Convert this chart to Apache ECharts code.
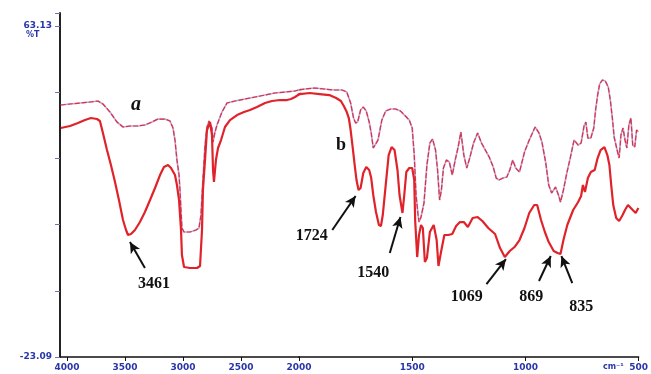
<!DOCTYPE html>
<html><head><meta charset="utf-8">
<script src="https://cdn.jsdelivr.net/npm/echarts@6/dist/echarts.min.js"></script>
<style>html,body{margin:0;padding:0;background:#fff}#c{width:651px;height:374px}</style>
</head><body><div id="c"></div>
<script>
// ---- data (wavenumber cm-1, %T) ----
const wnA = [4053,3974,3888,3802,3733,3690,3629,3569,3517,3457,3388,3328,3267,3216,3155,3112,3086,3069,3052,3034,3026,3017,3009,2991,2940,2888,2862,2845,2828,2810,2793,2776,2759,2750,2741,2733,2724,2707,2664,2621,2552,2466,2379,2293,2207,2121,2034,1974,1931,1888,1845,1810,1789,1772,1759,1750,1741,1728,1716,1703,1690,1681,1672,1664,1651,1634,1617,1595,1573,1552,1530,1513,1500,1491,1483,1474,1470,1461,1448,1435,1422,1410,1397,1388,1379,1371,1362,1349,1336,1323,1310,1297,1285,1272,1259,1246,1229,1211,1194,1177,1160,1142,1129,1117,1099,1082,1069,1056,1043,1026,1004,983,957,940,927,910,897,884,867,854,845,832,819,802,785,767,754,741,733,724,711,698,690,681,672,660,647,634,625,616,608,595,586,578,569,560,552,543,534,526,517,509,501];
const tA = [42.55,42.81,43.07,43.33,43.59,42.81,40.72,38.12,36.82,37.08,37.08,37.34,38.12,38.90,38.90,38.38,36.56,33.43,28.22,24.31,20.41,15.20,10.51,9.47,9.47,9.99,10.51,13.89,23.01,32.13,36.82,38.38,38.64,36.56,32.91,33.43,35.52,37.34,40.72,43.07,43.59,44.11,44.63,45.15,45.68,45.94,46.20,46.72,46.98,46.72,46.46,46.46,45.94,43.07,39.16,37.86,38.12,41.25,42.03,40.99,38.12,35.26,31.35,30.83,33.43,38.64,40.99,41.51,41.51,40.99,39.68,38.64,36.56,29.52,19.11,13.89,12.07,13.37,17.02,26.92,32.65,33.69,30.83,25.62,17.80,20.41,26.14,28.22,27.70,24.31,28.22,31.61,35.52,29.52,26.14,28.74,32.65,35.26,32.65,30.83,29.00,26.40,23.53,23.01,23.53,23.79,25.62,28.22,26.14,25.10,30.30,33.43,36.82,35.26,32.91,27.44,21.71,19.63,21.19,19.11,17.28,20.41,24.31,28.74,33.43,32.13,32.65,37.08,38.12,33.95,33.95,36.56,41.25,45.15,48.02,49.06,48.80,47.24,43.85,39.16,34.21,30.83,28.74,34.73,36.56,33.43,31.35,37.34,39.16,32.13,31.61,36.04,35.52];
const wnB = [4053,3974,3905,3845,3793,3741,3716,3690,3655,3621,3586,3552,3517,3491,3474,3448,3414,3371,3328,3284,3241,3198,3164,3129,3103,3069,3052,3034,3017,3009,2991,2940,2879,2853,2836,2828,2810,2793,2767,2750,2741,2733,2716,2698,2672,2638,2595,2534,2474,2422,2362,2293,2233,2164,2103,2069,2034,1996,1953,1909,1866,1836,1815,1802,1789,1780,1772,1763,1754,1746,1737,1728,1716,1703,1690,1681,1672,1660,1647,1638,1630,1617,1604,1591,1578,1565,1556,1543,1535,1526,1513,1500,1491,1487,1478,1470,1461,1453,1444,1435,1422,1405,1392,1384,1371,1358,1341,1323,1306,1289,1272,1254,1233,1211,1190,1164,1134,1112,1091,1069,1048,1026,1004,983,961,948,931,914,897,875,858,845,832,815,789,767,754,746,737,724,711,694,681,668,651,638,629,621,612,599,586,573,560,547,539,526,513,501];
const tB = [36.56,37.08,37.86,38.64,39.16,38.90,38.38,35.26,30.83,26.92,22.49,17.80,12.59,9.99,8.69,8.95,9.99,12.07,14.68,17.80,20.93,24.31,26.40,26.92,26.14,24.31,21.71,17.80,9.99,3.47,0.35,0.09,0.09,0.61,9.99,20.41,28.22,36.04,38.12,34.73,25.62,22.49,28.22,31.35,33.43,36.82,38.64,39.94,40.72,41.25,42.03,43.07,43.59,43.85,43.85,44.11,44.63,45.41,45.68,45.41,45.15,44.37,43.59,42.29,40.72,39.16,36.04,31.61,26.92,23.01,20.41,20.93,24.84,26.40,25.62,23.53,19.11,14.68,11.29,11.03,13.89,21.71,29.52,31.61,30.83,25.62,19.11,14.42,19.11,25.10,26.14,26.14,23.01,12.59,2.95,8.69,11.29,10.51,1.65,2.69,9.47,11.29,7.38,0.61,4.78,8.69,8.69,8.95,11.03,12.07,12.07,10.77,13.11,13.37,12.33,10.51,8.95,5.30,2.95,4.52,5.56,7.38,10.51,14.42,16.50,16.50,12.59,9.47,6.86,4.52,4.00,3.74,7.38,11.29,15.20,17.28,18.85,21.71,19.89,23.53,25.10,25.62,28.74,30.83,31.61,29.52,26.92,21.71,16.50,13.11,12.33,13.63,15.20,16.50,17.02,15.20,14.42,15.72];

const yRange = [-23.09, 63.13];          // labelled ends of the %T axis
const peakLabels = ['3461','1724','1540','1069','869','835'];
const arrowFromWn = [3328,1853,1599,1172,940,793];
const arrowFromT  = [0.09,9.99,3.98,-4.08,-3.30,-3.82];
const arrowToWn   = [3457,1750,1552,1086,888,841];
const arrowToT    = [6.86,18.85,13.37,2.43,3.21,3.21];
const peakLabelWn = [3250,1944,1672,1259,974,753];
const peakLabelT  = [-4.08,8.42,-1.21,-7.45,-7.45,-10.07];
const curveNames  = ['a','b'];
const curveNameWn = [3405,1815];
const curveNameT  = [42.55,32.13];

// ---- build ----
const SPLIT = 2000;
const ptsA = wnA.map((w,i)=>[w,tA[i]]);
const ptsB = wnB.map((w,i)=>[w,tB[i]]);
const yTop = yRange[1] + 3.39;   // axis line runs a little above the top label
const span = yRange[1] - yRange[0];
const blue = '#2a36a8';
const lblFont = {color: blue, fontWeight:'bold', fontSize:9, fontFamily:'DejaVu Sans'};

function marks(inLeft){
  const sel = w => inLeft ? w > SPLIT : w < SPLIT;
  const ml = [], mp = [];
  peakLabels.forEach((l,i)=>{
    if(!sel(arrowToWn[i])) return;
    ml.push([
      {coord:[arrowFromWn[i],arrowFromT[i]], symbol:'none', symbolSize:0},
      {coord:[arrowToWn[i],arrowToT[i]], symbol:'arrow', symbolSize:[8,11]}
    ]);
    mp.push({name:l, coord:[peakLabelWn[i],peakLabelT[i]],
      label:{fontFamily:'Liberation Serif', fontWeight:'bold', fontSize:16}});
  });
  curveNames.forEach((n,i)=>{
    if(!sel(curveNameWn[i])) return;
    mp.push({name:n, coord:[curveNameWn[i],curveNameT[i]],
      label:{fontFamily:'Liberation Serif', fontWeight:'bold', fontStyle: n==='a'?'italic':'normal', fontSize: n==='a'?20:18}});
  });
  return {
    markLine:{silent:true, animation:false, symbol:['none','arrow'],
      lineStyle:{color:'#111', width:2, type:'solid'}, itemStyle:{color:'#111'},
      label:{show:false}, data:ml},
    markPoint:{silent:true, symbol:'circle', symbolSize:0, animation:false,
      label:{show:true, position:'inside', color:'#111', formatter:p=>p.name}, data:mp}
  };
}

function seriesFor(g){
  const xi = g, yi = g===0?0:2;
  const m = marks(g===0);
  return [
    {type:'line', xAxisIndex:xi, yAxisIndex:yi, data:ptsA, symbol:'none', silent:true,
      lineStyle:{color:'#c3a6d6', width:1.7}},
    {type:'line', xAxisIndex:xi, yAxisIndex:yi, data:ptsA, symbol:'none', silent:true,
      lineStyle:{color:'#dc3040', width:1.2, type:[5,2]}},
    Object.assign({type:'line', xAxisIndex:xi, yAxisIndex:yi, data:ptsB, symbol:'none', silent:true,
      lineStyle:{color:'#e0232b', width:2.2}}, m)
  ];
}

const chart = echarts.init(document.getElementById('c'), null, {renderer:'canvas'});
chart.setOption({
  animation:false,
  backgroundColor:'#fff',
  grid:[
    {left:60, right:352, top:13, bottom:17},
    {left:299, right:5, top:13, bottom:17}
  ],
  xAxis:[
    {gridIndex:0, type:'value', inverse:true, min:2000, max:4060, interval:500,
      axisLine:{onZero:false, lineStyle:{color:'#111', width:1.6}}, splitLine:{show:false},
      axisTick:{show:true, length:4, lineStyle:{color:'#111'}},
      axisLabel:Object.assign({margin:6, showMaxLabel:false,
        formatter:v=> (Math.abs(v%500)<1e-6 ? String(v) : '')}, lblFont)},
    {gridIndex:1, type:'value', inverse:true, min:500, max:2000, interval:500,
      axisLine:{onZero:false, lineStyle:{color:'#111', width:1.6}}, splitLine:{show:false},
      axisTick:{show:true, length:4, lineStyle:{color:'#111'}},
      axisLabel:Object.assign({margin:6, showMaxLabel:false, formatter:v=>String(v)}, lblFont)}
  ],
  yAxis:[
    {gridIndex:0, type:'value', min:yRange[0], max:yTop, position:'left',
      axisLine:{show:true, onZero:false, lineStyle:{color:'#222', width:2}}, axisTick:{show:false},
      axisLabel:{show:false}, splitLine:{show:false}},
    {gridIndex:0, type:'value', min:0, max:yTop-yRange[0], interval:span/5, position:'left',
      axisLine:{show:false, onZero:false}, splitLine:{show:false},
      axisTick:{show:true, length:5, lineStyle:{color:'#6f72b0'}},
      axisLabel:Object.assign({margin:8, formatter:v=>{
        if(Math.abs(v)<1e-6) return yRange[0].toFixed(2);
        if(Math.abs(v-span)<1e-6) return yRange[1].toFixed(2);
        return '';}}, lblFont)},
    {gridIndex:1, type:'value', min:yRange[0], max:yTop, show:false}
  ],
  graphic:[
    {type:'text', left:26, top:31, style:{text:'%T', fill:blue, font:'bold 8px "DejaVu Sans"'}},
    {type:'text', left:603, top:363, style:{text:'cm⁻¹', fill:blue, font:'bold 8px "DejaVu Sans"'}}
  ],
  series:[...seriesFor(0), ...seriesFor(1)]
});
</script></body></html>
